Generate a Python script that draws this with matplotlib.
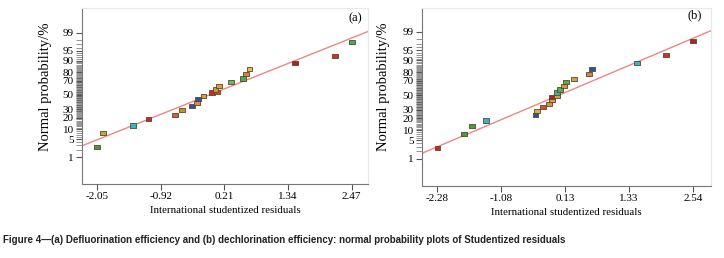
import math
import numpy as np
import matplotlib
matplotlib.use("Agg")
import matplotlib.pyplot as plt

# studentized residuals (x) and normal probability in % (y)
res_a = [-2.05, -1.94, -1.41, -1.14, -0.665, -0.545, -0.37, -0.277, -0.26, -0.163, -0.01,
         0.07, 0.05, 0.11, 0.326, 0.547, 0.60, 0.655, 1.466, 2.17, 2.47]
prob_a = [2.7, 7.9, 12.7, 18.1, 23.0, 28.3, 33.5, 37.8, 44.0, 49.0, 53.6,
          54.0, 57.9, 63.3, 68.8, 72.9, 78.1, 83.1, 88.3, 92.8, 97.6]
col_a = ["#3aa040", "#b8b030", "#30b8c8", "#c82828", "#d86030", "#c89030", "#3050b0",
         "#d89040", "#3050b0", "#d8a040", "#c82828", "#d05030", "#d89040", "#d8a040",
         "#60c060", "#40b050", "#d88040", "#e0c040", "#b02020", "#d03030", "#40b060"]

res_b = [-2.28, -1.78, -1.63, -1.36, -0.43, -0.41, -0.29, -0.17, -0.12, -0.12, -0.03,
         -0.02, 0.03, 0.11, 0.14, 0.30, 0.58, 0.63, 1.49, 2.04, 2.54]
prob_b = [2.7, 7.8, 12.9, 17.9, 23.3, 27.8, 33.7, 37.8, 43.2, 48.0, 49.2,
          54.0, 58.3, 63.3, 68.4, 72.9, 78.2, 82.9, 88.3, 92.9, 97.6]
col_b = ["#c82828", "#40a040", "#40a040", "#30b8c8", "#3050b0", "#d8b040", "#d05030",
         "#d89040", "#d8a040", "#b02030", "#d8a040", "#40b0a0", "#50b050", "#d89040",
         "#50b050", "#d8a040", "#d88040", "#3050b0", "#30b8c8", "#d03030", "#b02020"]

# fitted lines (end points)
fit_a_x = [-2.32, 2.76]
fit_a_p = [2.9, 99.1]
fit_b_x = [-2.57, 2.88]
fit_b_p = [1.7, 99.1]

xticks_a = [-2.05, -0.92, 0.21, 1.34, 2.47]
xticks_b = [-2.28, -1.08, 0.13, 1.33, 2.54]
yticks = [1, 5, 10, 20, 30, 50, 70, 80, 90, 95, 99]

_erf = np.vectorize(math.erf)


def cdf_pct(z):
    z = np.asarray(z, dtype=float)
    return 50.0 * (1.0 + _erf(z / math.sqrt(2.0)))


def ppf_pct(p):
    p = np.clip(np.asarray(p, dtype=float), 1e-9, 100 - 1e-9)
    lo = np.full(p.shape, -10.0)
    hi = np.full(p.shape, 10.0)
    for _ in range(60):
        mid = (lo + hi) / 2
        below = cdf_pct(mid) < p
        lo = np.where(below, mid, lo)
        hi = np.where(below, hi, mid)
    return (lo + hi) / 2


serif = "Liberation Serif"
rect = [(-1.4, -1), (1.4, -1), (1.4, 1), (-1.4, 1), (-1.4, -1)]

fig = plt.figure(figsize=(7.24, 2.58), dpi=100)


def panel(pos, xs, ps, cols, fx, fp, xticks, xlim, ylim, tag, tagpos, ylab_xy):
    ax = fig.add_axes(pos)
    ax.set_yscale("function", functions=(ppf_pct, cdf_pct))
    ax.plot(fx, fp, color="#e88888", lw=1.0, zorder=2)
    ax.scatter(xs, ps, marker=rect, s=18, c=cols, edgecolors="#5a4628",
               linewidths=0.6, zorder=3)
    ax.set_xlim(*xlim)
    ax.set_ylim(*ylim)
    ax.set_xticks(xticks)
    ax.set_xticklabels([f"{t:.2f}" for t in xticks], family=serif, fontsize=8)
    ax.set_yticks(yticks)
    ax.set_yticklabels([str(t) for t in yticks], family=serif, fontsize=8)
    ax.set_yticks([v for v in range(2, 99) if v not in yticks], minor=True)
    ax.tick_params(axis="both", which="major", length=4, width=0.8, color="#555555", pad=2)
    ax.tick_params(axis="y", which="minor", length=4, width=0.4, color="#444444")
    ax.tick_params(axis="x", which="minor", length=0)
    for s in ["left", "bottom"]:
        ax.spines[s].set_color("#777777")
        ax.spines[s].set_linewidth(0.8)
    for s in ["top", "right"]:
        ax.spines[s].set_color("#e8e8e8")
        ax.spines[s].set_linewidth(0.8)
    ax.set_xlabel("International studentized residuals", family=serif, fontsize=7.8, labelpad=3)
    ax.set_ylabel("Normal probability/%", family=serif, fontsize=10.5)
    ax.yaxis.set_label_coords(*ylab_xy)
    ax.text(tagpos[0], tagpos[1], tag, transform=ax.transAxes, family=serif,
            fontsize=9, ha="right", va="center")
    return ax


panel([0.1133, 0.2868, 0.395, 0.682], res_a, prob_a, col_a, fit_a_x, fit_a_p,
      xticks_a, (-2.32, 2.76), (0.045, 99.94), "(a)", (0.98, 0.94), (-0.105, 0.55))
panel([0.583, 0.279, 0.399, 0.69], res_b, prob_b, col_b, fit_b_x, fit_b_p,
      xticks_b, (-2.57, 2.88), (0.045, 99.93), "(b)", (0.97, 0.96), (-0.11, 0.556))

fig.text(0.004, 0.07, "Figure 4\u2014(a) Defluorination efficiency and (b) dechlorination "
         "efficiency: normal probability plots of Studentized residuals",
         family=["Liberation Sans Narrow", "Liberation Sans"], fontweight="bold",
         fontsize=7, ha="left", va="center", color="#222222")

fig.savefig("out.png", dpi=100)
